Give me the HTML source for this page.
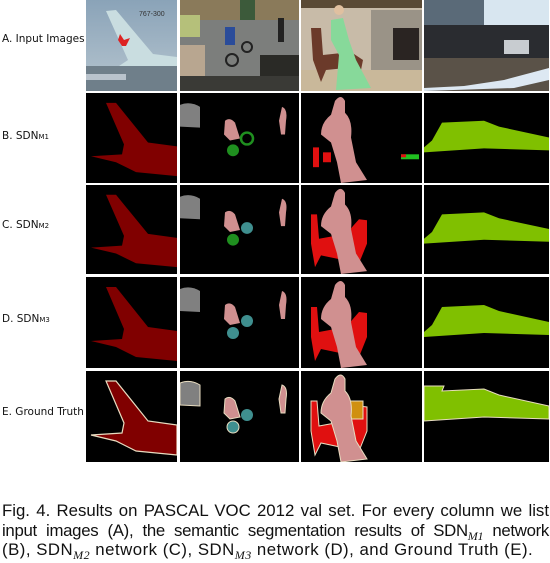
<!DOCTYPE html>
<html><head><meta charset="utf-8"><style>
body{margin:0;width:550px;height:563px;background:#fff;position:relative;overflow:hidden;font-family:"Liberation Sans",sans-serif}
.lbl{position:absolute;left:2px;font-size:10.5px;color:#111;font-family:"DejaVu Sans","Liberation Sans",sans-serif}
.lbl small{font-size:7px}
svg.cell{position:absolute;display:block}
.cap{position:absolute;left:2px;width:547px;font-size:16.8px;line-height:20px;color:#111;white-space:nowrap}
.j{text-align:justify;text-align-last:justify}
.cap i{font-family:"Liberation Serif",serif;font-size:12px;position:relative;top:4px}
</style></head><body>
<div class="lbl" style="top:33px">A. Input Images</div>
<div class="lbl" style="top:130px">B. SDN<small>M1</small></div>
<div class="lbl" style="top:219px">C. SDN<small>M2</small></div>
<div class="lbl" style="top:313px">D. SDN<small>M3</small></div>
<div class="lbl" style="top:406px">E. Ground Truth</div>

<svg class="cell" style="left:86px;top:0" width="91" height="91" viewBox="0 0 91 91">
<defs><linearGradient id="sky" x1="0" y1="0" x2="0" y2="1"><stop offset="0" stop-color="#8aa3b8"/><stop offset="1" stop-color="#b6c5cf"/></linearGradient></defs>
<rect width="91" height="91" fill="url(#sky)"/>
<polygon points="20,11 30,10 67,54 91,57 91,82 40,76 30,68 42,60" fill="#c9dde0"/>
<polygon points="34,34 38,40 44,38 40,46 36,46 32,40" fill="#d22"/>
<rect x="0" y="66" width="91" height="25" fill="#6f7f8a"/><rect x="0" y="74" width="40" height="6" fill="#b9c3cc"/>
<text x="53" y="16" font-size="7" fill="#333" font-family="Liberation Sans">767-300</text>
</svg>
<svg class="cell" style="left:180px;top:0" width="119" height="91" viewBox="0 0 119 91">
<rect width="119" height="91" fill="#7c7e7c"/><rect width="119" height="20" fill="#8a7a5a"/><rect x="60" width="15" height="20" fill="#3c5a3a"/><rect x="0" y="15" width="20" height="22" fill="#b5c07a"/>
<rect x="80" y="55" width="39" height="30" fill="#2a2a26"/><rect x="0" y="45" width="25" height="35" fill="#b8a690"/><rect x="0" y="76" width="119" height="15" fill="#3a3a36"/>
<circle cx="52" cy="60" r="6" fill="none" stroke="#222" stroke-width="2"/><circle cx="67" cy="47" r="5" fill="none" stroke="#222" stroke-width="2"/><rect x="45" y="27" width="10" height="18" fill="#2a4c9a"/>
<rect x="98" y="18" width="6" height="24" fill="#222"/>
</svg>
<svg class="cell" style="left:301px;top:0" width="121" height="91" viewBox="0 0 121 91">
<rect width="121" height="91" fill="#c8bba8"/><rect x="0" y="0" width="121" height="8" fill="#5a4a35"/><rect x="70" y="10" width="51" height="60" fill="#9a9387"/><rect x="92" y="28" width="26" height="32" fill="#2a2422"/>
<rect x="0" y="70" width="121" height="21" fill="#c9b89a"/>
<polygon points="10,28 20,28 22,55 50,52 62,60 58,80 45,68 25,70 20,82 12,60" fill="#6b3a2a"/>
<polygon points="30,20 42,18 48,40 55,60 70,88 35,90 38,55 30,40" fill="#87d99a"/><circle cx="38" cy="10" r="5" fill="#e0c0a0"/>
</svg>
<svg class="cell" style="left:424px;top:0" width="125" height="91" viewBox="0 0 125 91">
<rect width="125" height="91" fill="#d8e6f0"/><rect width="60" height="35" fill="#5a6a78"/>
<rect x="0" y="25" width="125" height="35" fill="#2a2c30"/><rect x="80" y="40" width="25" height="14" fill="#c8ccd0"/>
<rect x="0" y="58" width="125" height="33" fill="#5a5248"/><polygon points="0,88 40,86 80,80 125,68 125,80 90,88 0,91" fill="#dde8f2"/>
</svg>

<script>
const rowTops=[93,185,277,371];
const rowH=[90,89,91,91];
const rowNames=['sdn-m1','sdn-m2','sdn-m3','ground-truth'];
const cols=[[86,91],[180,119],[301,121],[424,125]];
const colNames=['airplane','motorbike','woman-chair','train'];
function plane(gt){const s=gt?' stroke="#e8dcc0" stroke-width="1.2"':'';return `<polygon points="20,10 30,10 62,50 91,54 91,84 50,80 30,70 5,64 36,62 38,52" fill="#800000"${s}/>`;}
function moto(r){const g=r===0?'#1f8f1f':'#3f8f8f';const g2=r===1?'#1f8f1f':g;const s=r===3?' stroke="#e8dcc0" stroke-width="1"':'';
return `<path d="M0,12 Q10,8 20,14 L20,35 L0,34 Z" fill="#808080"${s}/>
<path d="M45,28 Q50,24 55,30 L60,46 L50,48 L44,42 Z" fill="#d09090"${s}/>
<circle cx="53" cy="${r===0?58:56}" r="6" fill="${g2}"${s}/><circle cx="67" cy="${r===0?46:44}" r="6" fill="${r===0?'none':g}" stroke="${g}" stroke-width="${r===0?2.5:0}"/>
<path d="M102,14 Q108,16 106,28 L105,42 L101,42 L99,28 Z" fill="#d09090"${s}/>`;}
function woman(r){const s=r===3?' stroke="#e8dcc0" stroke-width="1"':'';
const chair=r===0?`<rect x="12" y="55" width="6" height="20" fill="#e01010"/><rect x="22" y="60" width="8" height="10" fill="#e01010"/><rect x="100" y="62" width="18" height="5" fill="#20c020"/><rect x="100" y="62" width="5" height="3" fill="#e01010"/>`:
`<polygon points="10,30 16,30 18,55 45,50 58,35 66,36 66,60 58,80 20,72 14,84 10,60" fill="#e01010"${s}/>`+(r===3?`<rect x="48" y="30" width="14" height="18" fill="#d09010"${s}/>`:'');
return chair+`<path d="M34,8 Q40,0 44,8 L44,20 Q52,28 50,45 L55,70 L66,88 L40,91 L36,70 L30,50 L20,42 Q20,30 30,22 Z" fill="#d09090"${s}/>`;}
function train(r){const s=r===3?' stroke="#e8dcc0" stroke-width="1"':'';
const top=r===3?20:30;return `<polygon points="0,${r===3?15:55} ${r===3?20:8},${r===3?15:48} 18,${top} 60,${top-2} 75,${top+4} 125,${top+15} 125,${top+28} 60,${top+26} 0,${top+30}" fill="#80c000"${s}/>`;}
const gens=[plane,moto,woman,train];
for(let r=0;r<4;r++)for(let c=0;c<4;c++){
 const w=cols[c][1],h=rowH[r];
 const d=document.createElement('div');
 d.innerHTML=`<svg class="cell" style="left:${cols[c][0]}px;top:${rowTops[r]}px" width="${w}" height="${h}" viewBox="0 0 ${w} 91" preserveAspectRatio="none"><rect width="${w}" height="91" fill="#000"/>${c===0?plane(r===3):gens[c](r)}</svg>`;
 const el=d.firstChild;
 
 
 document.body.appendChild(el);
}
</script>

<div class="cap j" style="top:501px">Fig. 4. Results on PASCAL VOC 2012 val set. For every column we list</div>
<div class="cap j" style="top:521px;letter-spacing:-0.3px">input images (A), the semantic segmentation results of SDN<i>M1</i> network</div>
<div class="cap" style="top:540px;letter-spacing:0.5px">(B), SDN<i>M2</i> network (C), SDN<i>M3</i> network (D), and Ground Truth (E).</div>
</body></html>
